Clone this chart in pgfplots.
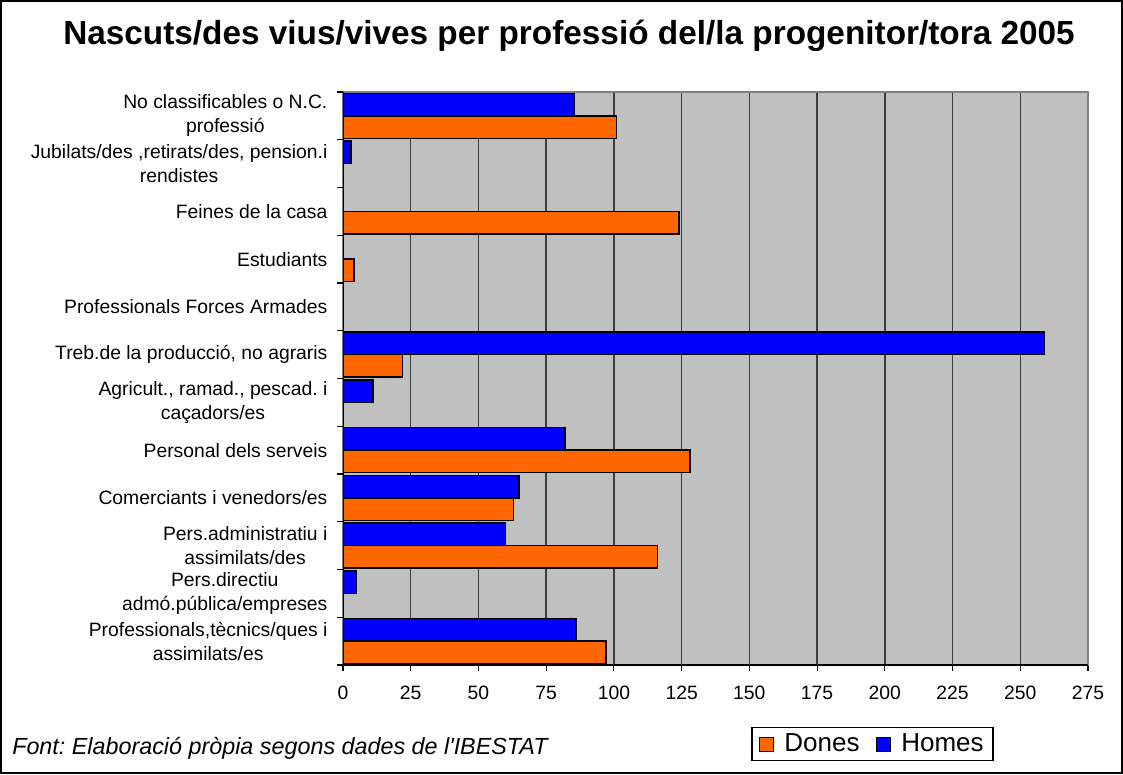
\documentclass[border=0pt]{standalone}
\usepackage{pgfplots}
\pgfplotsset{compat=1.18}
\usepackage{fontspec}
\setmainfont{Liberation Sans}
\frenchspacing
\definecolor{bgray}{RGB}{192,192,192}
\definecolor{orangebar}{RGB}{255,102,0}
\definecolor{bluebar}{RGB}{0,0,255}
\definecolor{gridc}{RGB}{60,60,60}
\begin{document}
\begin{tikzpicture}[x=1pt,y=1pt]
\path (0,0) rectangle (842.25,580.5);
\draw[line width=1.2pt] (0.9,0.9) rectangle (841.35,579.6);
\node[font=\fontsize{25}{28}\selectfont\bfseries, anchor=base] at (426.75,547) {Nascuts/des vius/vives per professió del/la progenitor/tora 2005};
\node[font=\fontsize{17.5}{20}\selectfont\itshape, anchor=base west, inner sep=0pt] at (9,15) {Font: Elaboració pròpia segons dades de l\textquotesingle IBESTAT};
\begin{axis}[
  at={(257.25pt,81.75pt)}, anchor=south west,
  scale only axis, width=558.75pt, height=429.75pt,
  xbar, bar width=0.47,
  xmin=0, xmax=275, ymin=-0.5, ymax=11.5,
  axis background/.style={fill=bgray},
  axis line style={draw=gray, line width=0.9pt},
  xtick={0,25,...,275},
  xtick pos=bottom, ytick pos=left,
  tick align=outside,
  major tick length=4.5pt,
  xtick style={draw=black, line width=0.8pt},
  xmajorgrids,
  major grid style={draw=gridc, line width=1.1pt},
  xticklabel style={font=\fontsize{14.5}{16}\selectfont, yshift=-8pt},
  /pgf/number format/assume math mode=true,
  ytick={0,...,11},
  ytick style={draw=none},
  yticklabels={{Professionals,tècnics/ques i\\assimilats/es},{Pers.directiu\\admó.pública/empreses},{Pers.administratiu i\\assimilats/des},{Comerciants i venedors/es},{Personal dels serveis},{Agricult., ramad., pescad. i\\caçadors/es},{Treb.de la producció, no agraris},{Professionals Forces Armades},{Estudiants},{Feines de la casa},{Jubilats/des ,retirats/des, pension.i\\rendistes},{No classificables o N.C.\\professió}},
  yticklabel style={font=\fontsize{14.5}{18}\selectfont, align=center, inner sep=0pt, xshift=-7pt},
  extra y ticks={-0.5,0.5,...,11.5},
  extra y tick labels={},
  extra y tick style={ytick style={draw=black, line width=0.8pt}, major grid style={draw=none}},
  legend columns=2,
  legend style={at={(0.7107,-0.1379)}, anchor=center, draw=black, line width=0.8pt,
    font=\fontsize{19.5}{22}\selectfont, inner xsep=5pt, inner ysep=3pt,
    /tikz/every odd column/.append style={column sep=6pt},
    /tikz/every even column/.append style={column sep=10pt}},
  legend image code/.code={\draw[#1, line width=0.8pt] (0pt,-5.5pt) rectangle (10.5pt,5pt);},
]
\addplot[fill=orangebar, draw=black, line width=1.1pt, bar shift=-0.235] coordinates {
(97,0) (0,1) (116,2) (63,3) (128,4) (0,5) (22,6) (0,7) (4,8) (124,9) (0,10) (101,11)};
\addplot[fill=bluebar, draw=black, line width=1.1pt, bar shift=0.235] coordinates {
(86,0) (5,1) (60,2) (65,3) (82,4) (11,5) (259,6) (0,7) (0,8) (0,9) (3,10) (85.5,11)};
\legend{Dones,Homes}
\draw[black, line width=0.9pt] (rel axis cs:0,1) -- (rel axis cs:0,0) -- (rel axis cs:1,0);
\end{axis}
\end{tikzpicture}
\end{document}
